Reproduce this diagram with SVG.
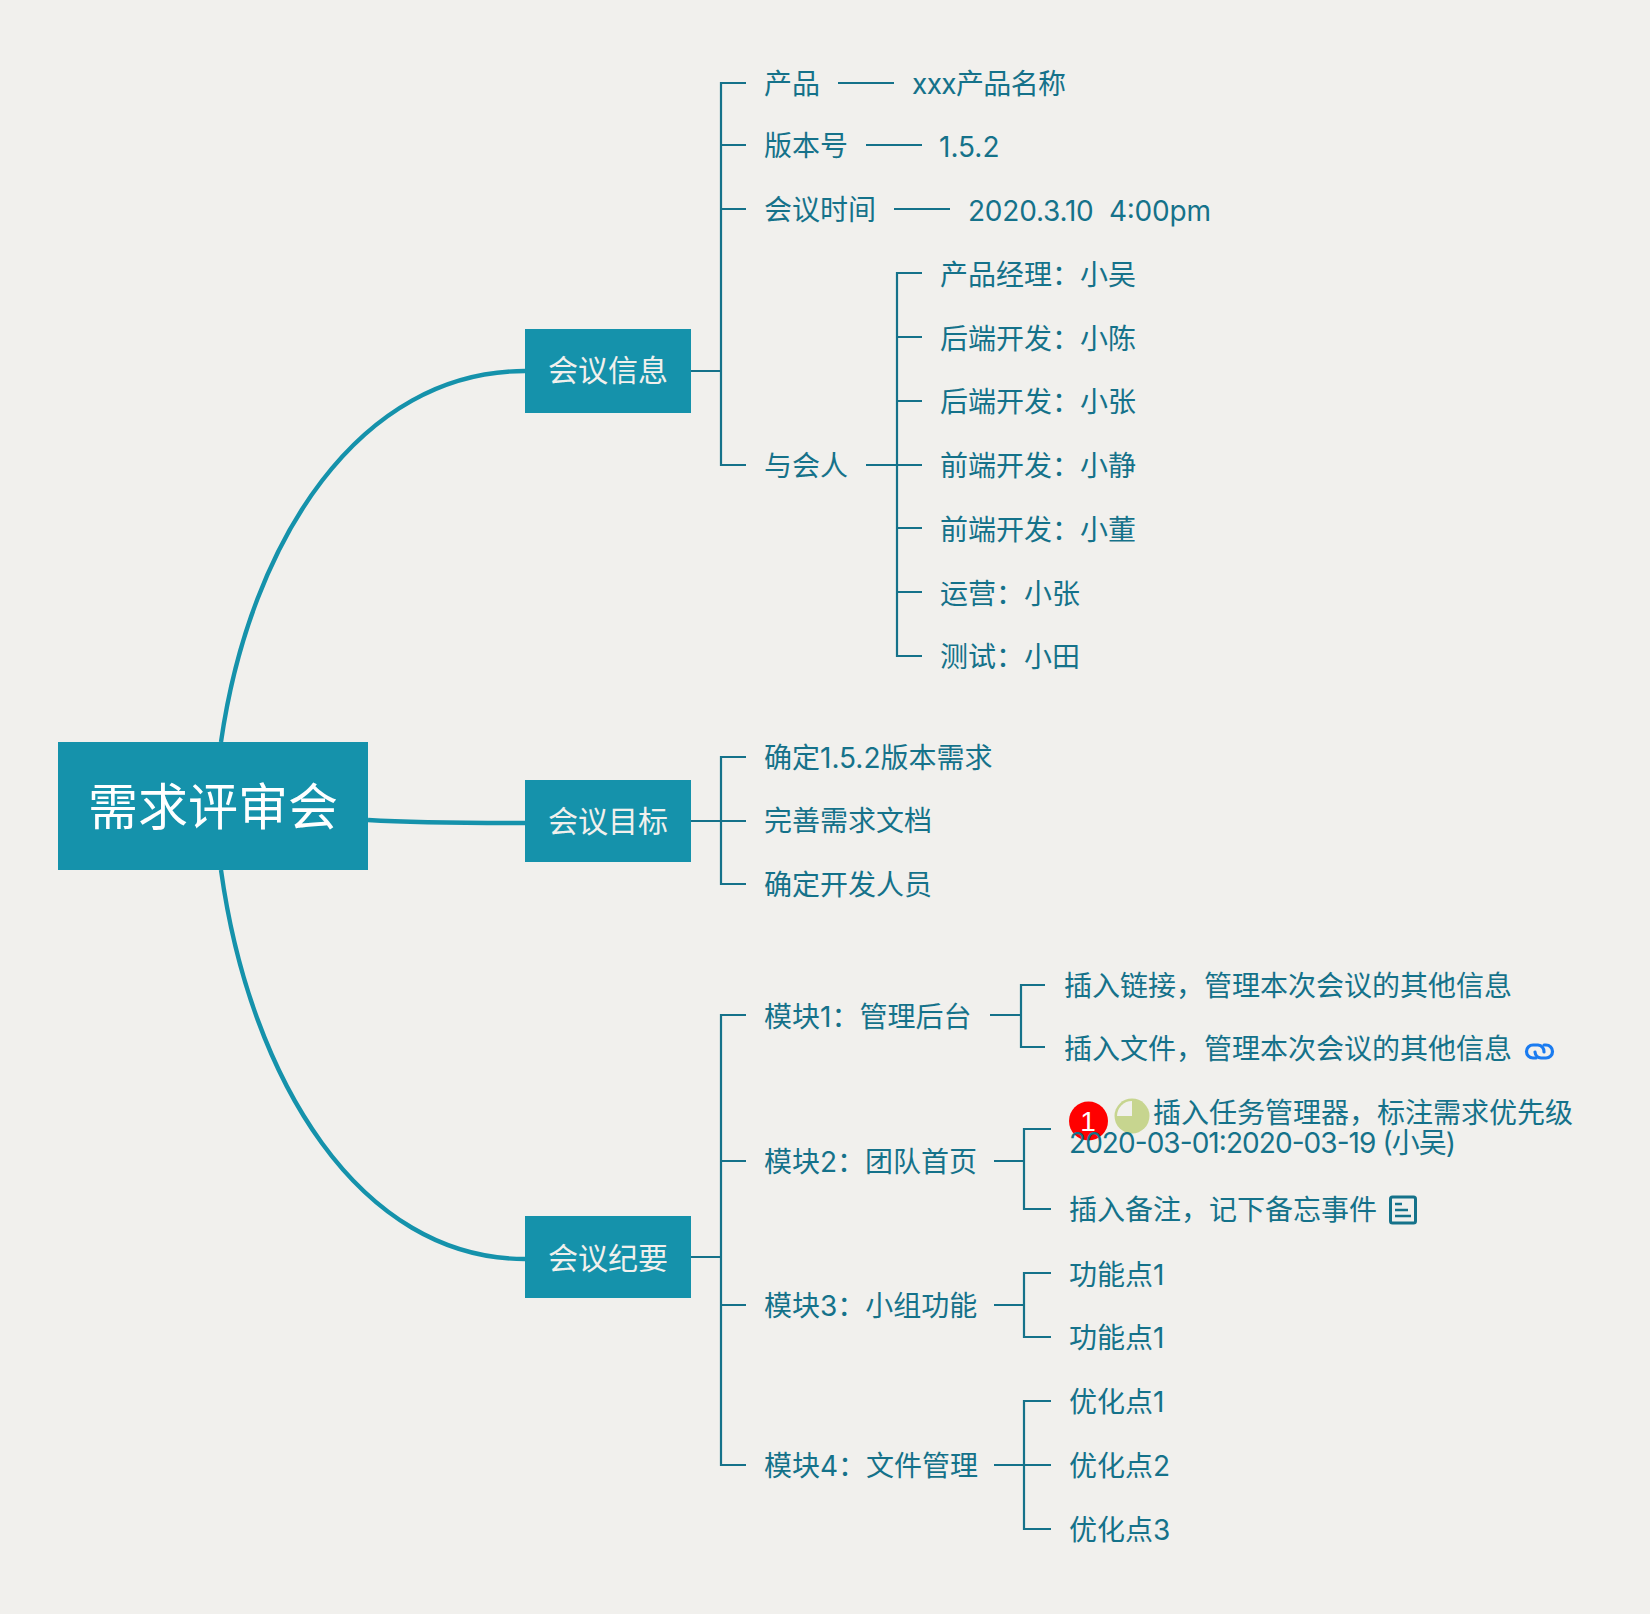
<svg xmlns="http://www.w3.org/2000/svg" width="1650" height="1614" viewBox="0 0 1650 1614">
<style>
text{font-family:"Inter","Noto Sans CJK SC",sans-serif;}
.t{font-size:28px;fill:#15728A;font-weight:400}
.n{font-size:30px;fill:#F1F0ED;font-weight:400;text-anchor:middle}
.r{font-size:50px;fill:#fff;font-weight:400;text-anchor:middle}
.box{fill:#1592AB}
.l{fill:none;stroke:#15728A;stroke-width:2.2}
.c{fill:none;stroke:#1592AB;stroke-width:4.4}
</style>
<rect width="1650" height="1614" fill="#F1F0ED"/>
<g id="connectors">
<path class="c" d="M221 742C250 540 360 371 525 371"/>
<path class="c" d="M368 820C420 823 470 823 525 823"/>
<path class="c" d="M221 870C250 1080 360 1259 525 1259"/>
<path class="l" d="M691 371H721M746 83H721V465H746M721 145H746M721 209H746"/>
<path class="l" d="M838 83H894M866 145H922M894 209H950M866 465H922M922 273H897V656H922M897 337H922M897 401H922M897 528H922M897 592H922"/>
<path class="l" d="M691 821H746M746 757H721V884H746"/>
<path class="l" d="M691 1257H721M746 1015H721V1465H746M721 1161H746M721 1305H746"/>
<path class="l" d="M990 1015H1021M1045 985H1021V1047H1045"/>
<path class="l" d="M994 1161H1024M1051 1129H1024V1209H1051"/>
<path class="l" d="M994 1305H1024M1051 1273H1024V1337H1051"/>
<path class="l" d="M994 1465H1051M1051 1401H1024V1529H1051"/>
</g>
<g id="root"><rect class="box" x="58" y="742" width="310" height="128"/><text class="r" x="213" y="825">需求评审会</text></g>
<g id="n1"><rect class="box" x="525" y="329" width="166" height="84"/><text class="n" x="608" y="381">会议信息</text></g>
<g id="n2"><rect class="box" x="525" y="780" width="166" height="82"/><text class="n" x="608" y="832">会议目标</text></g>
<g id="n3"><rect class="box" x="525" y="1216" width="166" height="82"/><text class="n" x="608" y="1269">会议纪要</text></g>
<g id="t1"><text class="t" x="764" y="94">产品</text></g>
<g id="t1v"><text class="t" x="912" y="94" textLength="154">xxx产品名称</text></g>
<g id="t2"><text class="t" x="764" y="156">版本号</text></g>
<g id="t2v"><text class="t" x="939" y="157">1.5.2</text></g>
<g id="t3"><text class="t" x="764" y="220">会议时间</text></g>
<g id="t3v"><text class="t" x="968" y="221" xml:space="preserve" textLength="243">2020.3.10  4:00pm</text></g>
<g id="t4"><text class="t" x="764" y="476">与会人</text></g>
<g id="p1"><text class="t" x="940" y="285">产品经理：小吴</text></g>
<g id="p2"><text class="t" x="940" y="349">后端开发：小陈</text></g>
<g id="p3"><text class="t" x="940" y="412">后端开发：小张</text></g>
<g id="p4"><text class="t" x="940" y="476">前端开发：小静</text></g>
<g id="p5"><text class="t" x="940" y="540">前端开发：小董</text></g>
<g id="p6"><text class="t" x="940" y="604">运营：小张</text></g>
<g id="p7"><text class="t" x="940" y="667">测试：小田</text></g>
<g id="g1"><text class="t" x="764" y="768">确定1.5.2版本需求</text></g>
<g id="g2"><text class="t" x="764" y="831">完善需求文档</text></g>
<g id="g3"><text class="t" x="764" y="895">确定开发人员</text></g>
<g id="m1"><text class="t" x="764" y="1027">模块1：管理后台</text></g>
<g id="m2"><text class="t" x="764" y="1172">模块2：团队首页</text></g>
<g id="m3"><text class="t" x="764" y="1316">模块3：小组功能</text></g>
<g id="m4"><text class="t" x="764" y="1476">模块4：文件管理</text></g>
<g id="a1"><text class="t" x="1064" y="996">插入链接，管理本次会议的其他信息</text></g>
<g id="a2"><text class="t" x="1064" y="1059">插入文件，管理本次会议的其他信息</text>
<g fill="none" stroke="#1A7BF0" stroke-width="3.2" stroke-linecap="round"><path d="M1536 1058H1533A6.500 6.500 0 0 1 1533 1045H1538A6.500 6.500 0 0 1 1544 1052"/><path d="M1544 1045H1546A6.500 6.500 0 0 1 1546 1058H1541A6.500 6.500 0 0 1 1535 1052"/></g></g>
<g id="b1"><circle cx="1088.500" cy="1121" r="19.500" fill="#F00"/><text x="1088" y="1131" font-size="28" fill="#fff" text-anchor="middle" style="font-family:'Liberation Sans',sans-serif">1</text>
<circle cx="1132" cy="1116" r="17.500" fill="#C7D58F"/><path d="M1132 1116V1101A15 15 0 0 0 1117 1116Z" fill="#F1F0ED"/>
<text class="t" x="1153" y="1123">插入任务管理器，标注需求优先级</text><text class="t" x="1069" y="1153" textLength="387">2020-03-01:2020-03-19 (小吴)</text></g>
<g id="b2"><text class="t" x="1069" y="1220">插入备注，记下备忘事件</text><g fill="none" stroke="#15728A"><rect x="1390.500" y="1197" width="25" height="26" rx="2" stroke-width="3"/><path d="M1395 1204H1402M1395 1210H1408M1395 1216H1411" stroke-width="2.500"/></g></g>
<g id="c1"><text class="t" x="1069" y="1285">功能点1</text></g>
<g id="c2"><text class="t" x="1069" y="1348">功能点1</text></g>
<g id="d1"><text class="t" x="1069" y="1412">优化点1</text></g>
<g id="d2"><text class="t" x="1069" y="1476">优化点2</text></g>
<g id="d3"><text class="t" x="1069" y="1540">优化点3</text></g>
</svg>
